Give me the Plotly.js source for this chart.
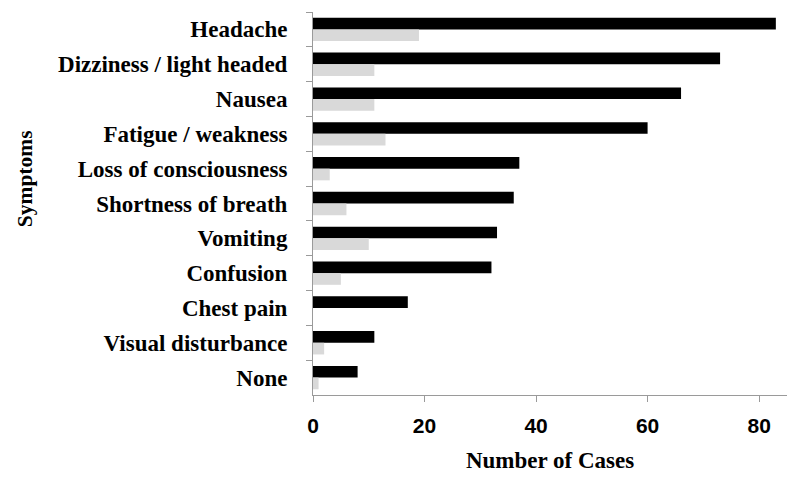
<!DOCTYPE html>
<html>
<head>
<meta charset="utf-8">
<script src="https://cdn.plot.ly/plotly-3.0.1.min.js"></script>
<style>html,body{margin:0;padding:0;background:#fff;}#chart{width:800px;height:481px;}</style>
</head>
<body>
<div id="chart"></div>
<script>
const symptoms = ["Headache", "Dizziness / light headed", "Nausea", "Fatigue / weakness", "Loss of consciousness", "Shortness of breath", "Vomiting", "Confusion", "Chest pain", "Visual disturbance", "None"];
const seriesA = [83, 73, 66, 60, 37, 36, 33, 32, 17, 11, 8];
const seriesB = [19, 11, 11, 13, 3, 6, 10, 5, 0, 2, 1];
const xTicks = [0, 20, 40, 60, 80];

const traces = [
  {type: "bar", orientation: "h", y: symptoms, x: seriesA, marker: {color: "#000000"}, hoverinfo: "x+y"},
  {type: "bar", orientation: "h", y: symptoms, x: seriesB, marker: {color: "#d9d9d9"}, hoverinfo: "x+y"}
];

const serif = "Liberation Serif, Times New Roman, serif";
const layout = {
  width: 800, height: 481,
  margin: {l: 313, r: 13, t: 12, b: 86},
  paper_bgcolor: "#fff", plot_bgcolor: "#fff",
  barmode: "group", bargap: 0.33, bargroupgap: 0,
  showlegend: false,
  xaxis: {
    range: [0, 85], tickvals: xTicks, ticktext: xTicks.map(String),
    showgrid: false, zeroline: false, showline: true, linecolor: "#9a9a9a", linewidth: 1,
    ticks: "outside", ticklen: 6, tickcolor: "#9a9a9a",
    tickfont: {family: "Liberation Sans, Arial, sans-serif", size: 21, color: "#000", weight: "bold"},
    ticklabelstandoff: 6,
    title: {text: "<b>Number of Cases</b>", font: {family: serif, size: 23, color: "#000"}, standoff: 15}
  },
  yaxis: {
    autorange: "reversed", type: "category",
    showgrid: false, zeroline: false, showline: true, linecolor: "#9a9a9a", linewidth: 1,
    ticks: "outside", ticklen: 6, tickcolor: "#9a9a9a", tickson: "boundaries",
    tickfont: {family: serif, size: 23, color: "#000", weight: "bold"},
    ticklabelstandoff: 20
  },
  annotations: [{
    text: "<b>Symptoms</b>", textangle: -90, showarrow: false,
    xref: "paper", yref: "paper", x: -0.6076, y: 0.566, xanchor: "center", yanchor: "middle",
    font: {family: serif, size: 21.5, color: "#000"}
  }]
};

Plotly.newPlot("chart", traces, layout, {displayModeBar: false, staticPlot: true});
</script>
</body>
</html>
